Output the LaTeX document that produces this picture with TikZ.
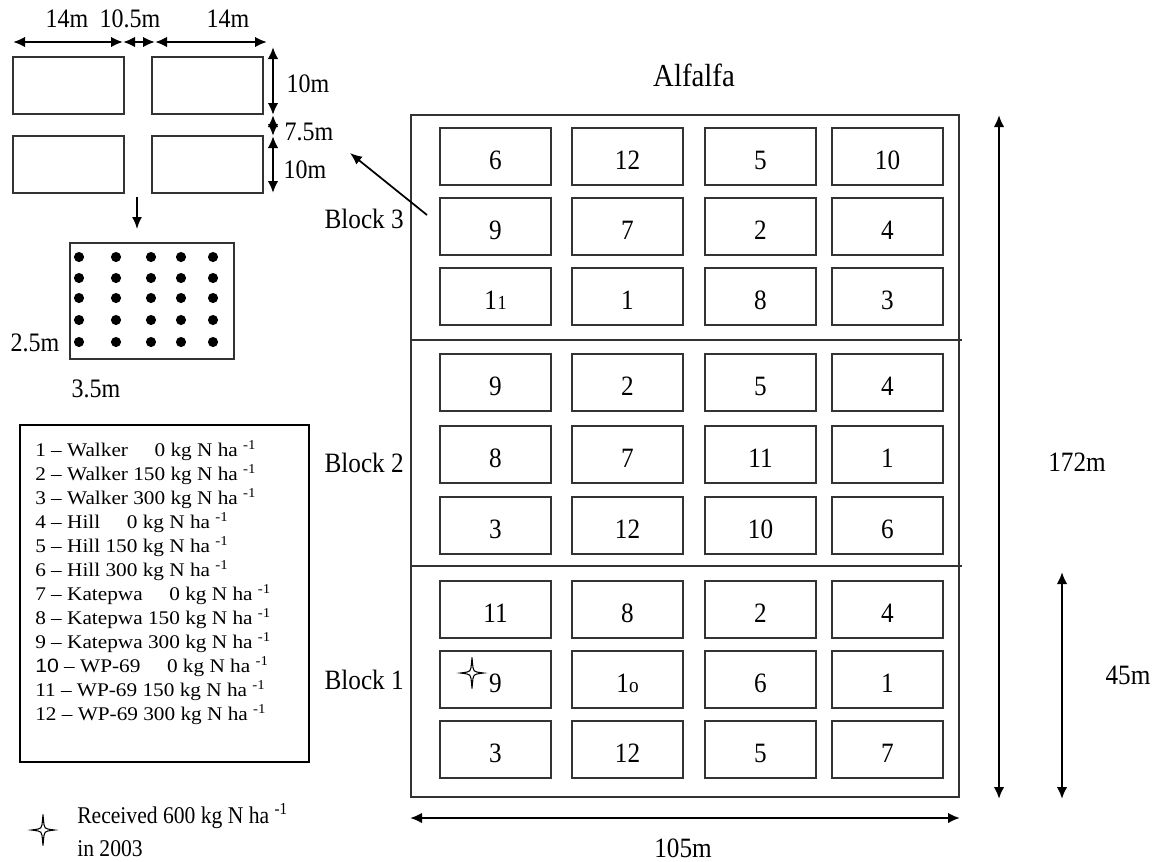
\documentclass[tikz,border=0pt]{standalone}
\usepackage{fontspec}
\setmainfont[FakeStretch=0.9]{Liberation Serif}
\newfontfamily\legfont[FakeStretch=1.1,Ligatures=TeX]{Liberation Serif}
\newfontfamily\legsans[FakeStretch=1.1]{Liberation Sans}
\usetikzlibrary{arrows.meta}

\begin{document}
\begin{tikzpicture}[
  x=0.75pt,
  y=-0.75pt,
  line join=miter,
  plotbox/.style={draw=black!80,line width=0.9pt,minimum width=83.25pt,minimum height=42.75pt,
    inner sep=0pt,text height=20pt,text depth=0pt,font=\fontsize{21}{24}\selectfont},
  field/.style={draw=black!80,line width=1.1pt},
  blockline/.style={draw=black!80,line width=0.8pt},
  subplot/.style={draw=black!80,line width=0.9pt},
  dimarrow/.style={draw=black,line width=1.8pt,
    {Latex[length=9pt,width=8pt]}-{Latex[length=9pt,width=8pt]}},
  pointer/.style={draw=black,line width=1.3pt,-{Latex[length=9pt,width=7.5pt]}},
  biglabel/.style={font=\fontsize{21}{24}\selectfont,inner sep=0pt},
  dimlabel/.style={font=\fontsize{20}{22}\selectfont,inner sep=0pt},
  legendtext/.style={font=\legfont\fontsize{14.5}{16}\selectfont,inner sep=0pt},
  legendbox/.style={draw=black,line width=1.9pt},
  starmark/.style={draw=black,line width=0.8pt}
]
  \newcommand{\fourstar}[2]{%
    \draw[starmark,shift={(#1,#2)}] (0,-15.5) .. controls (1,-4) .. (2.2,-2.2)
      .. controls (4,-1) .. (11.5,0) .. controls (4,1) .. (2.2,2.2)
      .. controls (1,4) .. (0,15.5) .. controls (-1,4) .. (-2.2,2.2)
      .. controls (-4,1) .. (-11.5,0) .. controls (-4,-1) .. (-2.2,-2.2)
      .. controls (-1,-4) .. cycle;
  }
  \useasboundingbox (0,0) rectangle (1156,861);

  % Field with three blocks
  \draw[field] (411,115) rectangle (959,797);
  \draw[blockline] (411,340) -- (962,340);
  \draw[blockline] (411,566) -- (962,566);
  \node[biglabel,font=\fontsize{24}{26}\selectfont] (alfalfa) at (694,75) {Alfalfa};

  % Plots, row by row (Block 3 at the top)
  \foreach \y/\labels [count=\r] in {
      156.5/{6,12,5,10},
      226.5/{9,7,2,4},
      296.5/{{1\kern0.5pt\fontsize{15}{15}\selectfont 1},1,8,3},
      382.5/{9,2,5,4},
      454.5/{8,7,11,1},
      525.5/{3,12,10,6},
      609.5/{11,8,2,4},
      679.5/{9,{1\fontsize{16}{16}\selectfont o},6,1},
      749.5/{3,12,5,7}} {
    \foreach \t [count=\c] in \labels {
      \pgfmathsetmacro{\px}{{495.5,627.5,760.5,887.5}[\c-1]}
      \node[plotbox] (p\r\c) at (\px,\y) {\t};
    }
  }
  \fourstar{472}{673}

  \node[biglabel,anchor=east] (block3) at (404,219) {Block 3};
  \node[biglabel,anchor=east] (block2) at (404,463) {Block 2};
  \node[biglabel,anchor=east] (block1) at (404,680) {Block 1};

  % Field dimensions
  \coordinate (wL) at (410,818);
  \coordinate (wR) at (960,818);
  \draw[dimarrow] (wL) -- (wR);
  \node[biglabel] (width) at (683,848) {105m};
  \coordinate (hT) at (999,115);
  \coordinate (hB) at (999,799);
  \draw[dimarrow] (hT) -- (hB);
  \node[biglabel] (height) at (1077,462) {172m};
  \coordinate (bT) at (1062,572);
  \coordinate (bB) at (1062,799);
  \draw[dimarrow] (bT) -- (bB);
  \node[biglabel] (bheight) at (1128,675) {45m};

  % Subplot layout of one plot
  \draw[subplot] (13,57) rectangle (124,114);
  \draw[subplot] (152,57) rectangle (263,114);
  \draw[subplot] (13,136) rectangle (124,193);
  \draw[subplot] (152,136) rectangle (263,193);
  \coordinate (s0) at (13,42);
  \coordinate (s1) at (123,42);
  \coordinate (s2) at (155,42);
  \coordinate (s3) at (267,42);
  \draw[dimarrow] (s0) -- (s1);
  \draw[dimarrow] (s1) -- (s2);
  \draw[dimarrow] (s2) -- (s3);
  \node[dimlabel] (sw1) at (67,19) {14m};
  \node[dimlabel] (sgap) at (130,19) {10.5m};
  \node[dimlabel] (sw2) at (228,19) {14m};
  \coordinate (v0) at (273,47);
  \coordinate (v1) at (273,115);
  \coordinate (v2) at (273,136);
  \coordinate (v3) at (273,193);
  \draw[dimarrow] (v0) -- (v1);
  \draw[dimarrow] (v1) -- (v2);
  \draw[dimarrow] (v2) -- (v3);
  \node[dimlabel] (sh1) at (308,84) {10m};
  \node[dimlabel] (svgap) at (309,132) {7.5m};
  \node[dimlabel] (sh2) at (305,170) {10m};

  \coordinate (ptr) at (427,215);
  \coordinate (ptrtip) at (350,153);
  \draw[pointer] (ptr) -- (ptrtip);
  \coordinate (dn0) at (137,197);
  \coordinate (dn1) at (137,229);
  \draw[pointer] (dn0) -- (dn1);

  % Sampling points
  \draw[subplot] (70,243) rectangle (234,359);
  \foreach \dx in {79,116,151,181,213} {
    \foreach \dy in {257,278,298,320,342} {
      \fill[black] (\dx,\dy) circle[radius=3.8pt];
    }
  }
  \node[dimlabel] (pw) at (35,343) {2.5m};
  \node[dimlabel] (ph) at (96,389) {3.5m};

  % Treatment key
  \draw[legendbox] (20,425) rectangle (309,762);
  \foreach \entry [count=\i] in {
      1 -- Walker \phantom{15}0 kg N ha \textsuperscript{-1},
      2 -- Walker 150 kg N ha \textsuperscript{-1},
      3 -- Walker 300 kg N ha \textsuperscript{-1},
      4 -- Hill \phantom{15}0 kg N ha \textsuperscript{-1},
      5 -- Hill 150 kg N ha \textsuperscript{-1},
      6 -- Hill 300 kg N ha \textsuperscript{-1},
      7 -- Katepwa \phantom{15}0 kg N ha \textsuperscript{-1},
      8 -- Katepwa 150 kg N ha \textsuperscript{-1},
      9 -- Katepwa 300 kg N ha \textsuperscript{-1},
      {\legsans 10} -- WP-69 \phantom{15}0 kg N ha \textsuperscript{-1},
      11 -- WP-69 150 kg N ha \textsuperscript{-1},
      12 -- WP-69 300 kg N ha \textsuperscript{-1}} {
    \node[legendtext,anchor=base west] (key\i) at (35,{456+24*(\i-1)}) {\entry};
  }

  \fourstar{43}{830}
  \node[biglabel,font=\fontsize{18}{22}\selectfont,anchor=base west] (recv1) at (77,823)
    {Received 600 kg N ha \textsuperscript{-1}};
  \node[biglabel,font=\fontsize{18}{22}\selectfont,anchor=base west] (recv2) at (77,856)
    {in 2003};
\end{tikzpicture}
\end{document}
